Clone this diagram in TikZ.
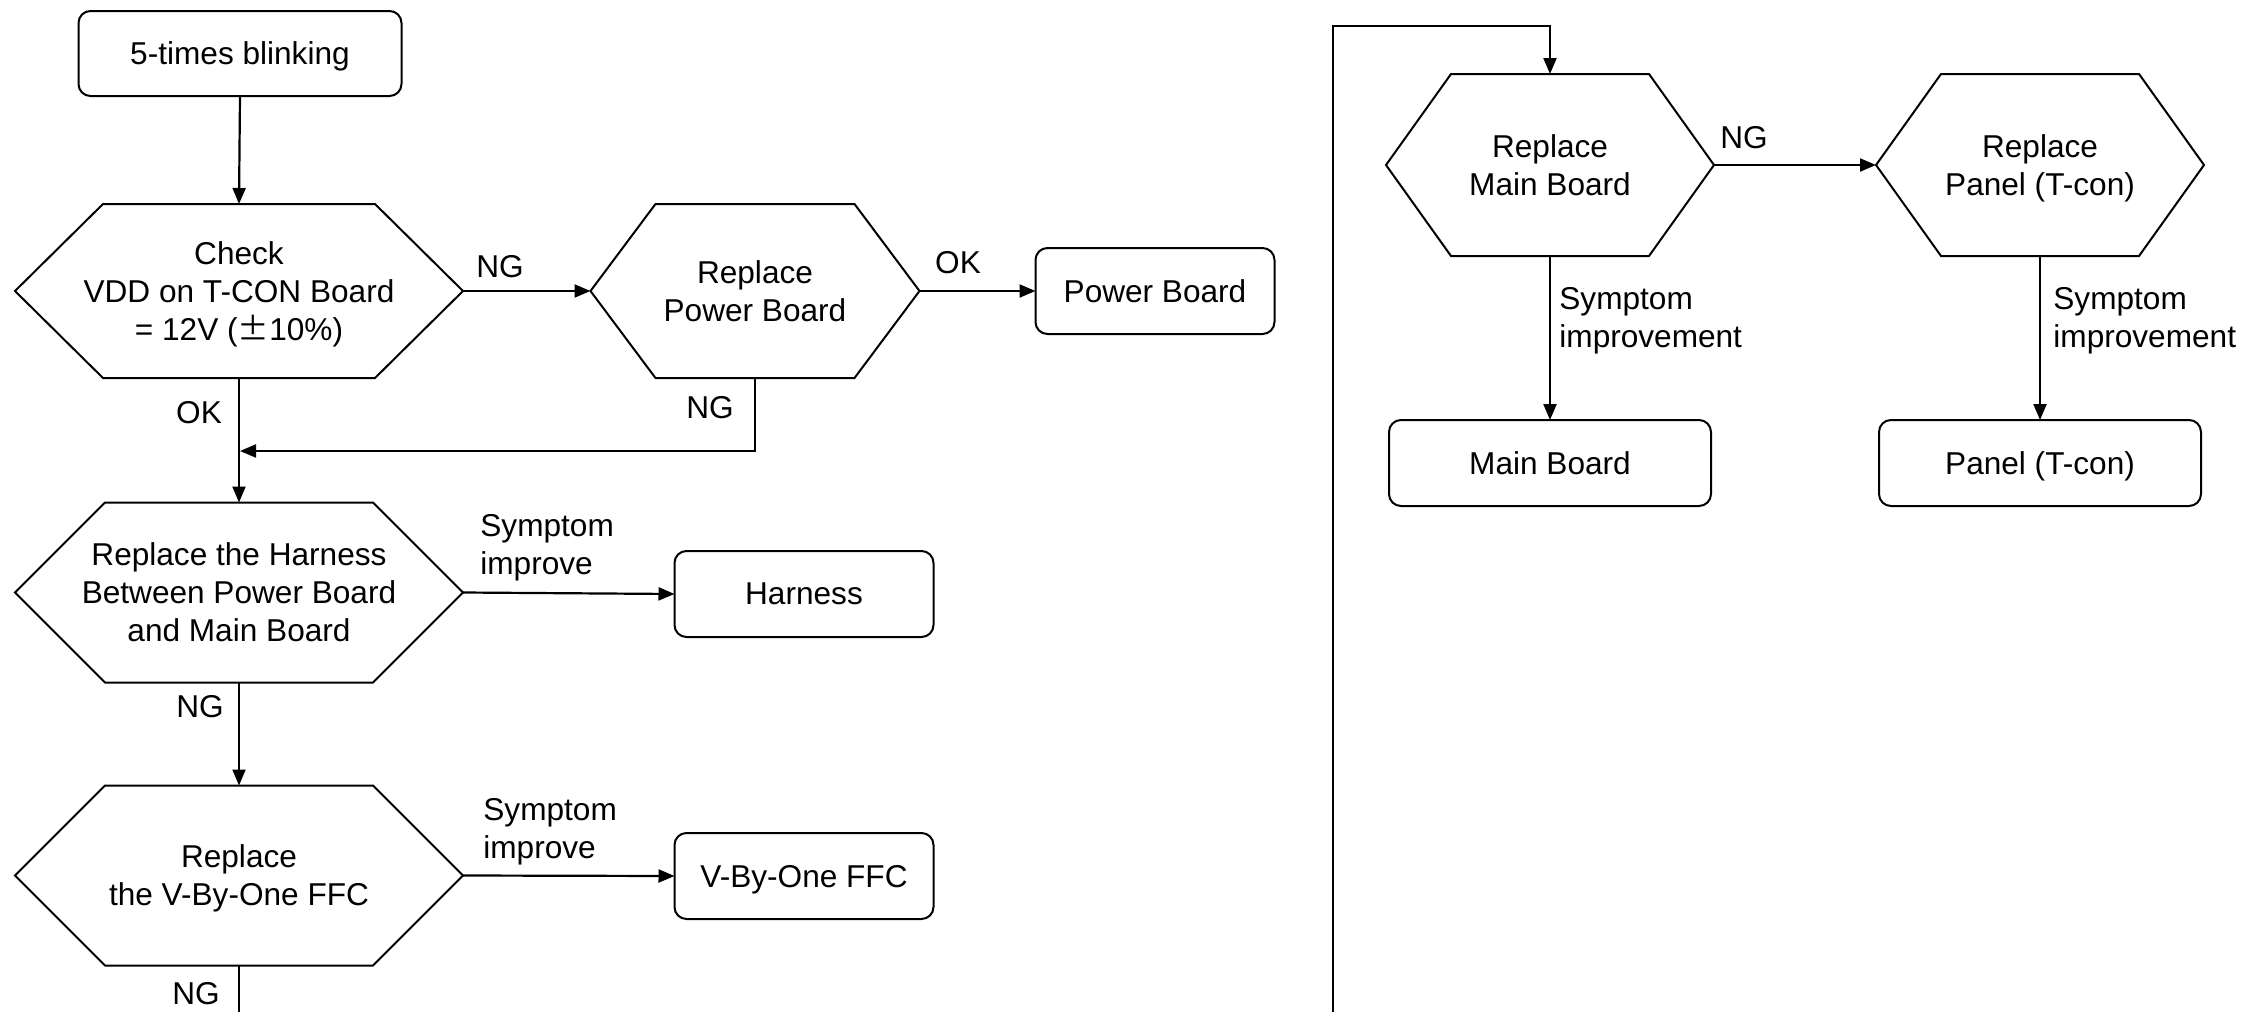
\documentclass[tikz,border=0pt]{standalone}
\usepackage{fontspec}
\setmainfont{Liberation Sans}
\newfontfamily\cjk{Noto Sans CJK SC}
\usetikzlibrary{arrows.meta,calc}
\tikzset{
  txt/.style={font=\fontsize{15.8}{19}\selectfont, align=center, text depth=0pt},
  boxn/.style={txt, draw, line width=1pt, rounded corners=6pt, inner sep=0pt, outer sep=0pt},
  hexn/.style={txt, draw=none, inner sep=0pt, outer sep=0pt},
  shp/.style={line width=1pt, line join=miter},
  conn/.style={line width=1.1pt, -{Triangle[length=8pt,width=6.5pt]}},
  plain/.style={line width=1.1pt},
  lbl/.style={font=\fontsize{15.8}{19}\selectfont, inner sep=0pt},
  lbll/.style={lbl, align=left, anchor=west}
}
\newcommand\hexdraw[2]{\draw[shp] (#1.west) -- ($(#1.north west)+(#2,0)$) -- ($(#1.north east)+(-#2,0)$) -- (#1.east) -- ($(#1.south east)+(-#2,0)$) -- ($(#1.south west)+(#2,0)$) -- cycle;}
\begin{document}
\begin{tikzpicture}[x=0.5pt,y=-0.5pt]
\useasboundingbox (0,0) rectangle (2244,1012);
% left column
\node[boxn, minimum width=161.5pt, minimum height=42.5pt] (start) at (240,53.5) {5-times blinking};
\node[hexn, minimum width=224pt, minimum height=87pt] (check) at (239,291) {Check\\VDD on T-CON Board\\= 12V ({\cjk ±}10\%)};
\node[hexn, minimum width=164.5pt, minimum height=87pt] (rpb) at (755,291) {Replace\\Power Board};
\node[boxn, minimum width=119.5pt, minimum height=43pt] (pb) at (1155,291) {Power Board};
\node[hexn, minimum width=224pt, minimum height=90pt] (harn) at (239,592.5) {Replace the Harness\\Between Power Board\\and Main Board};
\node[boxn, minimum width=129.5pt, minimum height=43pt] (harnbox) at (804,594) {Harness};
\node[hexn, minimum width=224pt, minimum height=90pt] (vbo) at (239,875.5) {Replace\\the V-By-One FFC};
\node[boxn, minimum width=129.5pt, minimum height=43pt] (vbobox) at (804,876) {V-By-One FFC};
% right column
\node[hexn, minimum width=164pt, minimum height=91pt] (rmb) at (1550,165) {Replace\\Main Board};
\node[hexn, minimum width=164pt, minimum height=91pt] (rp) at (2040,165) {Replace\\Panel (T-con)};
\node[boxn, minimum width=161pt, minimum height=43pt] (mb) at (1550,463) {Main Board};
\node[boxn, minimum width=161pt, minimum height=43pt] (ptc) at (2040,463) {Panel (T-con)};
% hexagon outlines
\hexdraw{check}{88}
\hexdraw{rpb}{65}
\hexdraw{harn}{90}
\hexdraw{vbo}{90}
\hexdraw{rmb}{65}
\hexdraw{rp}{65}
% helper coordinates
\coordinate (join) at (240,451);
\coordinate (vend) at (239,1012);
\coordinate (lbot) at (1333,1012);
\coordinate (ltop) at (1333,26);
% connectors
\draw[conn] (start.south) -- (check.north);
\draw[conn] (check.east) -- (rpb.west);
\draw[conn] (rpb.east) -- (pb.west);
\draw[conn] (check.south) -- (harn.north);
\draw[conn] (rpb.south) |- (join);
\draw[conn] (harn.east) -- (harnbox.west);
\draw[conn] (harn.south) -- (vbo.north);
\draw[conn] (vbo.east) -- (vbobox.west);
\draw[plain] (vbo.south) -- (vend);
\draw[conn] (lbot) -- (ltop) -| (rmb.north);
\draw[conn] (rmb.east) -- (rp.west);
\draw[conn] (rmb.south) -- (mb.north);
\draw[conn] (rp.south) -- (ptc.north);
% labels
\node[lbl] (l1) at (500,267) {NG};
\node[lbl] (l2) at (958,263) {OK};
\node[lbl] (l3) at (199,413) {OK};
\node[lbl] (l4) at (710,408) {NG};
\node[lbll] (l5) at (480,548) {Symptom\\improve};
\node[lbl] (l6) at (200,707) {NG};
\node[lbll] (l7) at (483,832) {Symptom\\improve};
\node[lbl] (l8) at (196,994) {NG};
\node[lbl] (l9) at (1744,138) {NG};
\node[lbll] (l10) at (1559,321) {Symptom\\improvement};
\node[lbll] (l11) at (2053,321) {Symptom\\improvement};
\end{tikzpicture}
\end{document}
